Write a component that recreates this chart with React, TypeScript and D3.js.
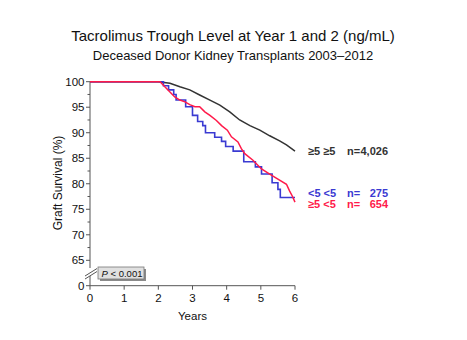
import React from "react";
import * as d3 from "d3";

const W = 467;
const H = 340;

const titleText = "Tacrolimus Trough Level at Year 1 and 2 (ng/mL)";
const subtitleText = "Deceased Donor Kidney Transplants 2003\u20132012";
const yTickValues = [0, 65, 70, 75, 80, 85, 90, 95, 100];
const yMinorValues = [67.5, 72.5, 77.5, 82.5, 87.5, 92.5, 97.5];
const xTickValues = [0, 1, 2, 3, 4, 5, 6];

// >=5 >=5 group (n=4,026)
const blackT = [0, 2.0, 2.34, 2.63, 2.92, 3.21, 3.51, 3.8, 4.09, 4.38, 4.68, 4.97, 5.26, 5.55, 5.75, 6.0];
const blackV = [100, 100, 99.7, 99.0, 98.4, 97.4, 96.4, 95.4, 94.1, 92.5, 91.4, 90.5, 89.4, 88.4, 87.6, 86.4];

// <5 <5 group (n=275), Kaplan-Meier steps
const blueT = [0, 2.15, 2.3, 2.45, 2.52, 2.8, 3.0, 3.15, 3.3, 3.38, 3.65, 3.85, 3.97, 4.19, 4.5, 4.84, 5.02, 5.33, 5.5, 5.57, 6.0];
const blueV = [100, 99.2, 98.4, 97.5, 96.4, 95.1, 93.4, 92.2, 91.4, 90.0, 89.1, 88.3, 87.3, 86.4, 84.3, 83.3, 81.9, 80.2, 78.9, 77.3, 77.3];

// >=5 <5 group (n=654)
const redT = [0, 2.05, 2.19, 2.34, 2.48, 2.63, 2.78, 2.92, 3.07, 3.21, 3.36, 3.51, 3.7, 3.85, 4.02, 4.14, 4.33, 4.43, 4.53, 4.77, 5.02, 5.26, 5.5, 5.75, 5.84, 5.92, 6.0];
const redV = [100, 100, 99.0, 98.0, 97.0, 96.4, 96.05, 95.5, 95.1, 95.1, 94.1, 93.4, 92.4, 91.4, 90.5, 89.2, 88.2, 86.9, 85.9, 84.6, 82.9, 81.9, 80.9, 79.9, 78.6, 77.6, 76.4];

const legendSym = ["\u22655 \u22655", "<5 <5", "\u22655 <5"];
const legendN = ["4,026", "275", "654"];
const colors = ["#333333", "#3a3ad2", "#ff1a4a"];

export default function App() {
  const x0 = 90, x1 = 295;
  const x = d3.scaleLinear().domain([0, 6]).range([x0, x1]);
  const y = d3.scaleLinear().domain([0, 65, 100]).range([285.7, 260.3, 81.7]);
  const font = "'Liberation Sans', Arial, Helvetica, sans-serif";

  const lineLin = d3.line<[number, number]>().x(d => x(d[0])).y(d => y(d[1]));
  const lineStep = d3.line<[number, number]>().x(d => x(d[0])).y(d => y(d[1])).curve(d3.curveStepAfter);

  const black = blackT.map((t, i) => [t, blackV[i]] as [number, number]);
  const blue = blueT.map((t, i) => [t, blueV[i]] as [number, number]);
  const red = redT.map((t, i) => [t, redV[i]] as [number, number]);

  const yAxisBottom = y(0);
  const legendY = [y(86.4) + 4, 196.5, 208];

  return (
    <svg width={W} height={H} style={{ display: "block", position: "absolute", left: 0, top: 0 }} fontFamily={font}>
      <rect x={0} y={0} width={W} height={H} fill="#ffffff" />
      <text x={233} y={41} textAnchor="middle" fontSize={15} fill="#111">{titleText}</text>
      <text x={233} y={60} textAnchor="middle" fontSize={13} fill="#111">{subtitleText}</text>

      {/* axes */}
      <line x1={x0} x2={x0} y1={y(100)} y2={yAxisBottom} stroke="#555" strokeWidth={1} />
      <line x1={x0} x2={x1} y1={yAxisBottom} y2={yAxisBottom} stroke="#555" strokeWidth={1} />
      {yTickValues.map(v => (
        <g key={"yt" + v}>
          <line x1={x0 - 4} x2={x0} y1={y(v)} y2={y(v)} stroke="#555" />
          <text x={x0 - 5.5} y={y(v) + 4} textAnchor="end" fontSize={11.5} fill="#111">{v}</text>
        </g>
      ))}
      {yMinorValues.map(v => (
        <line key={"ym" + v} x1={x0 - 2.5} x2={x0} y1={y(v)} y2={y(v)} stroke="#555" />
      ))}
      {xTickValues.map(v => (
        <g key={"xt" + v}>
          <line x1={x(v)} x2={x(v)} y1={yAxisBottom} y2={yAxisBottom + 4} stroke="#555" />
          <text x={x(v)} y={yAxisBottom + 16} textAnchor="middle" fontSize={11.5} fill="#111">{v}</text>
        </g>
      ))}
      <text x={(x0 + x1) / 2} y={320} textAnchor="middle" fontSize={11.5} fill="#111">Years</text>
      <text transform={`translate(61.5,183) rotate(-90)`} textAnchor="middle" fontSize={12} fill="#111">Graft Survival (%)</text>

      {/* axis break */}
      <rect x={x0 - 1} y={268} width={3} height={8} fill="#fff" />
      <line x1={85} y1={276} x2={97} y2={268.5} stroke="#555" />
      <line x1={85} y1={279} x2={97} y2={271.5} stroke="#555" />

      {/* P value box */}
      <rect x={100} y={269} width={46} height={12} fill="#8a8a8a" />
      <rect x={98} y={267} width={46} height={12} fill="#e0e0e0" stroke="#777" strokeWidth={0.8} />
      <text x={101.5} y={276.8} fontSize={9.5} fill="#111">
        <tspan fontStyle="italic">P</tspan> &lt; 0.001
      </text>

      {/* curves */}
      <path d={lineLin(black) || ""} fill="none" stroke={colors[0]} strokeWidth={1.5} />
      <path d={lineStep(blue) || ""} fill="none" stroke={colors[1]} strokeWidth={1.6} />
      <path d={lineLin(red) || ""} fill="none" stroke={colors[2]} strokeWidth={1.5} />

      {/* legend */}
      {legendSym.map((s, i) => (
        <g key={"lg" + i} fontSize={11} fontWeight="bold" fill={colors[i]}>
          <text x={308} y={legendY[i]}>{s}</text>
          <text x={347} y={legendY[i]}>n=</text>
          <text x={388} y={legendY[i]} textAnchor="end">{legendN[i]}</text>
        </g>
      ))}
    </svg>
  );
}
